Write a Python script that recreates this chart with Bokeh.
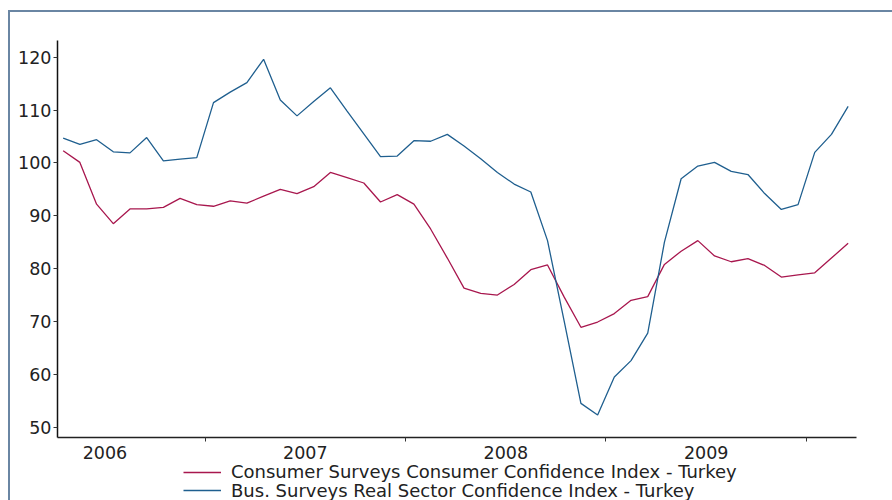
import numpy as np
from bokeh.plotting import figure
from bokeh.layouts import column
from bokeh.models import FixedTicker, Legend, LegendItem, Range1d
from bokeh.embed import file_html
from bokeh.resources import INLINE

# Monthly data, Apr 2006 - Mar 2010 (index 0..47)
consumer = [102.3, 100.1, 92.2, 88.5, 91.3, 91.3, 91.6, 93.3, 92.1, 91.8, 92.8, 92.4,
            93.7, 95.0, 94.2, 95.5, 98.2, 97.2, 96.2, 92.6, 94.0, 92.2, 87.5, 82.0,
            76.3, 75.3, 75.0, 77.0, 79.8, 80.7, 74.6, 68.9, 69.9, 71.5, 74.0, 74.7,
            80.8, 83.3, 85.3, 82.4, 81.3, 81.9, 80.6, 78.4, 78.8, 79.2, 82.0, 84.8]
real_sector = [104.7, 103.5, 104.4, 102.1, 101.9, 104.8, 100.4, 100.7, 101.0, 111.4, 113.4, 115.2,
               119.6, 111.9, 108.9, 111.6, 114.2, 109.8, 105.5, 101.2, 101.3, 104.2, 104.1, 105.4,
               103.2, 100.8, 98.2, 96.0, 94.5, 85.3, 70.0, 54.5, 52.3, 59.5, 62.6, 67.8,
               85.0, 97.0, 99.4, 100.1, 98.4, 97.8, 94.2, 91.2, 92.1, 102.0, 105.4, 110.7]
months = list(range(len(consumer)))

year_labels = ["2006", "2007", "2008", "2009"]
year_centers = [2.5, 14.5, 26.5, 38.5]
year_bounds = [8.5, 20.5, 32.5, 44.5]
y_ticks = [50, 60, 70, 80, 90, 100, 110, 120]

series_names = ["Consumer Surveys Consumer Confidence Index - Turkey",
                "Bus. Surveys Real Sector Confidence Index - Turkey"]
RED = "#A8174E"
BLUE = "#1F5F8F"
FRAME = "#6a86a3"
FONT = "DejaVu Sans"

# ---------------- main chart ----------------
p = figure(width=892, height=462, output_backend="svg", toolbar_location=None,
           x_range=Range1d(-0.34, 47.5), y_range=Range1d(48.05, 123.16),
           min_border_left=57, min_border_right=36, min_border_top=40, min_border_bottom=25)
p.styles = {
    "background-color": "white",
    "background-image": f"linear-gradient({FRAME}, {FRAME}), linear-gradient({FRAME}, {FRAME})",
    "background-size": "2px 500px, 900px 2px",
    "background-position": "8px 10px, 8px 10px",
    "background-repeat": "no-repeat",
}
p.grid.visible = False
p.outline_line_color = None
p.background_fill_color = "white"
p.border_fill_color = None

p.line(months, consumer, line_color=RED, line_width=1.3)
p.line(months, real_sector, line_color=BLUE, line_width=1.3)

ya = p.yaxis[0]
ya.ticker = FixedTicker(ticks=y_ticks)
ya.axis_line_color = "#111111"
ya.axis_line_width = 1.5
ya.major_tick_line_color = "#333333"
ya.major_tick_in = 0
ya.major_tick_out = 4
ya.minor_tick_line_color = None
ya.major_label_standoff = 2
ya.major_label_text_font = FONT
ya.major_label_text_font_size = "17.5px"
ya.major_label_text_color = "#222222"

xa = p.xaxis[0]
xa.ticker = FixedTicker(ticks=year_centers, minor_ticks=year_bounds)
xa.major_label_overrides = {c: l for c, l in zip(year_centers, year_labels)}
xa.axis_line_color = "#222222"
xa.axis_line_width = 1.5
xa.major_tick_line_color = None
xa.major_tick_in = 0
xa.major_tick_out = 0
xa.minor_tick_line_color = "#333333"
xa.minor_tick_in = 0
xa.minor_tick_out = 4
xa.major_label_standoff = 4
xa.major_label_text_font = FONT
xa.major_label_text_font_size = "17.5px"
xa.major_label_text_color = "#222222"

# ---------------- legend strip ----------------
# series drawn again here only to provide legend glyphs; the y range keeps them out of view
q = figure(width=892, height=38, output_backend="svg", toolbar_location=None,
           x_range=Range1d(-0.34, 47.5), y_range=Range1d(0, 1),
           x_axis_type=None, y_axis_type=None,
           min_border_left=57, min_border_right=36, min_border_top=0, min_border_bottom=0)
q.styles = {
    "background-color": "white",
    "background-image": f"linear-gradient({FRAME}, {FRAME})",
    "background-size": "2px 100px",
    "background-position": "8px 0px",
    "background-repeat": "no-repeat",
}
q.grid.visible = False
q.outline_line_color = None
q.background_fill_color = None
q.border_fill_color = None
k1 = q.line(months, consumer, line_color=RED, line_width=1.3)
k2 = q.line(months, real_sector, line_color=BLUE, line_width=1.3)

legend_style = dict(orientation="vertical", background_fill_alpha=0, border_line_color=None,
                    padding=0, spacing=0, margin=0,
                    label_height=18, glyph_height=18, glyph_width=38, label_standoff=10,
                    label_text_font=FONT, label_text_font_size="18px",
                    label_text_color="#222222")
legend1 = Legend(items=[LegendItem(label=series_names[0], renderers=[k1])],
                 location=(126, 17.8), **legend_style)
legend2 = Legend(items=[LegendItem(label=series_names[1], renderers=[k2])],
                 location=(126, -0.5), **legend_style)
q.add_layout(legend1)
q.add_layout(legend2)

layout = column(p, q, spacing=0)
open("out.html", "w").write(file_html(layout, INLINE))
